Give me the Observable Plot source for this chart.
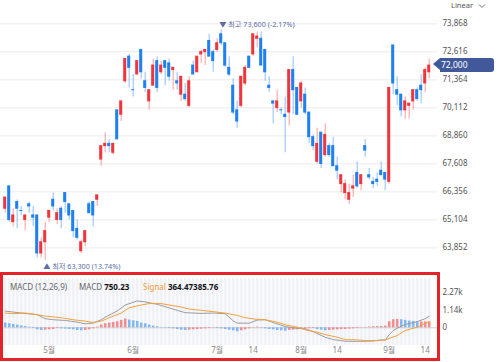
<!DOCTYPE html>
<html><head><meta charset="utf-8">
<script src="https://cdn.jsdelivr.net/npm/d3@7"></script>
<script src="https://cdn.jsdelivr.net/npm/@observablehq/plot@0.6"></script>
<style>
body{margin:0;background:#fff;font-family:"Noto Sans","Noto Sans CJK KR",sans-serif;}
#wrap{position:relative;width:500px;height:362px;overflow:hidden;background:#fff;}
#main{position:absolute;left:0;top:0;}
#macd{position:absolute;left:0;top:271px;}
#box{position:absolute;left:0;top:272px;width:440px;height:88.5px;border:3px solid #e5232b;box-sizing:border-box;}
.lg{position:absolute;top:281px;font-size:8px;line-height:12px;white-space:nowrap;color:#666;}
.lg b{color:#111;}
#scale{position:absolute;left:451px;top:0px;font-size:7.5px;line-height:10px;color:#555;}
#tag{position:absolute;left:433px;width:61px;height:13.4px;}
#tag .arrow{position:absolute;left:0;top:0;width:0;height:0;border-top:6.7px solid transparent;border-bottom:6.7px solid transparent;border-right:7px solid #41599b;}
#tag .body{position:absolute;left:7px;top:0;width:54px;height:13.4px;background:#41599b;border-radius:0 3px 3px 0;color:#fff;font-size:8.5px;line-height:13.4px;padding-left:1px;box-sizing:border-box;}
</style></head>
<body><div id="wrap">
<div id="main"></div>
<div id="macd"></div>
<div id="box"></div>
<div class="lg" style="left:10px">MACD (12,26,9)</div>
<div class="lg" style="left:79px">MACD <b id="mv"></b></div>
<div class="lg" style="left:143px"><span style="color:#f39a2e">Signal</span> <b id="sv"></b></div>
<div id="scale">Linear <svg width="8" height="6" style="margin-left:3px;vertical-align:middle"><path d="M1 1.5 L4 4.5 L7 1.5" fill="none" stroke="#666" stroke-width="0.9"/></svg></div>
<div id="tag"><div class="arrow"></div><div class="body" id="tagtext"></div></div>
</div>
<script>
// Daily OHLC (KRW)
const open  = [65600,66600,65000,65900,65500,65100,65800,65300,65300,63600,64100,65200,66000,65100,65600,66300,65800,65500,64700,63700,64100,65800,65900,66000,67800,68400,68500,68100,70000,69800,71300,72400,70900,71600,72700,71300,70400,71100,72200,71700,72200,72100,71800,71300,70700,70700,70200,72000,71700,72500,72600,73100,72600,72700,73400,73000,71900,71100,70000,70200,71200,72400,72500,73200,73200,72700,71100,70400,70100,70000,69800,69900,71800,71000,70400,70700,69900,68800,67700,69000,68000,68400,68400,67500,66700,66300,66000,66500,67200,66700,68400,67100,66800,66900,67300,67200,66800,72900,70900,70700,70000,70200,70400,70900,71100,71200,71700];
const high  = [66100,66600,65600,66000,65700,65300,65900,65700,65300,64300,65000,65500,66300,65600,65700,66300,65800,65500,65100,64200,64600,65900,65900,66200,68400,69000,68700,68500,70000,70400,72300,72500,71600,72200,72700,71700,70900,72300,72400,72200,72200,72300,71900,71700,71500,71200,71500,72200,72400,72700,72700,73400,72700,73200,73600,73000,72400,71400,70400,71500,72000,72400,73400,73500,73500,72700,71500,70400,70900,70100,70600,71800,72400,71000,71300,71000,69900,68900,69200,69000,69400,68500,68800,67900,67100,66900,66700,67100,67700,67100,68700,67400,67000,67200,67700,67200,71000,72900,71500,70700,70600,70300,70900,71000,71600,71900,72300];
const low   = [65400,65000,64800,64700,65300,64600,65400,64800,63400,63400,63300,65000,65500,64900,64700,65400,65100,64300,64200,63600,63900,65400,64800,65700,67500,68100,68100,68000,68700,69500,71200,71000,70600,71600,71400,70800,70000,71100,70800,71600,71100,71300,70900,70900,70400,70400,70100,71600,71700,72100,72000,72400,71700,72600,72900,71900,71500,69800,69200,70100,71100,71900,72400,72800,72000,71300,70800,69400,69900,69800,68100,69300,69800,69800,70100,69800,68500,68200,67600,67400,67900,67900,67500,66900,66300,66000,65800,66100,66500,66400,67900,66900,66500,66600,67100,66400,66700,70700,70200,69700,69600,69600,70000,70400,70300,70800,71400];
const close = [66100,65100,65300,65600,65500,65300,65700,65200,63600,64100,64600,65500,65700,65400,65100,65900,65300,64600,64300,64100,64600,65400,65300,66200,68400,68500,68400,68500,68700,70400,72300,71900,70900,72200,71700,71000,70900,72000,71000,72000,71900,71500,71900,71200,71500,70500,71300,71600,72400,72600,72700,72400,72200,73000,73000,72000,71600,69900,69500,71500,71900,71900,73400,73300,72000,71700,71000,70300,70400,70000,69700,71800,70900,69800,71200,69900,68800,68400,68500,67600,68900,68000,67500,67300,67100,66700,66300,66600,66600,67100,68200,67000,66700,66800,67100,66900,71000,71200,70700,70000,70400,70300,70900,70500,70900,71800,72000];

// MACD oscillator (per day) and sampled MACD / Signal lines
const histogram = [305,262,218,174,131,87,44,-44,-131,-174,-153,-131,-109,-44,-65,-87,-109,-131,-174,-196,-174,-131,-65,44,174,262,305,349,392,480,567,501,458,414,305,262,174,109,65,22,-22,-44,-65,-109,-153,-174,-153,-131,-109,-87,-65,-44,-22,-44,-65,-109,-153,-196,-262,-196,-131,-65,22,44,-22,-65,-109,-131,-174,-196,-218,-174,-153,-131,-109,-87,-65,-44,-109,-153,-196,-174,-153,-131,-120,-109,-87,-65,-44,-22,22,44,65,76,87,109,392,523,545,523,480,436,414,371,381,383,386];
const macdIdx = [0,2,5,8,10,12,15,18,20,22,24,25,28,30,33,35,38,40,43,45,49,52,55,57,58,61,63,65,67,70,72,75,77,80,82,85,88,92,94,95,96,97,98,100,103,105,106];
const macdVal = [1086,1020,930,850,589,523,477,366,262,301,523,690,1086,1480,1740,1680,1524,1370,1131,980,935,955,916,450,301,301,500,523,340,85,-10,-65,-250,-615,-760,-876,-876,-860,-785,-800,-450,-180,-30,216,400,589,750];
const signalIdx = [0,2,5,8,10,14,17,20,22,24,26,29,31,34,36,39,41,44,46,49,52,55,58,60,63,65,68,70,73,75,78,80,83,85,88,90,93,95,98,100,103,105,106];
const signalVal = [955,916,955,850,760,654,523,432,347,432,654,955,1300,1478,1570,1570,1478,1347,1216,1131,1046,955,804,654,543,523,366,196,39,-131,-288,-438,-615,-765,-785,-830,-830,-785,-504,-177,39,301,364];
const legendValues = ["750.23", "364.47", "385.76"];

// Axis ticks
const priceTicks = [63852,65104,66356,67608,68860,70112,71364,72616,73868];
const macdTicks = [0,1135,2270];
const macdTickLabels = ["0","1.14k","2.27k"];
const dateTickIdx = [11,32,53,62,74,83,96,105];
const dateTickLabels = ["5월","6월","7월","14","8월","14","9월","14"];
const extremeLabels = ["▼ 최고 73,600 (-2.17%)", "▲ 최저 63,300 (13.74%)"];

const RED = "#f0363c", BLUE = "#1f80ef";
const n = close.length;
const candles = d3.range(n).map(i => ({i, o: open[i], h: high[i], l: low[i], c: close[i]}));
const col = d => d.c > d.o ? RED : BLUE;
const hiI = d3.maxIndex(high), loI = d3.minIndex(low);
const xDomain = [-1.175, 108.075];
const font = "'Noto Sans','Noto Sans CJK KR',sans-serif";

const main = Plot.plot({
  width: 500, height: 272,
  marginTop: 0, marginBottom: 0, marginLeft: 0, marginRight: 63,
  style: {fontSize: "8px", color: "#555", fontFamily: font, background: "transparent"},
  x: {domain: xDomain, axis: null},
  y: {domain: [62749, 74910], axis: null},
  marks: [
    Plot.gridY(priceTicks, {stroke: "#ececec", strokeOpacity: 1}),
    Plot.axisY({anchor: "right", ticks: priceTicks, tickSize: 0, tickPadding: 5, tickFormat: d3.format(","), fill: "#555", label: null}),
    Plot.ruleX(candles, {x: "i", y1: "l", y2: "h", stroke: col, strokeOpacity: 0.42, strokeWidth: 1.2}),
    Plot.rect(candles, {x1: d => d.i - 0.38, x2: d => d.i + 0.38, y1: "o", y2: "c", fill: col, insetTop: -0.5, insetBottom: -0.5}),
    Plot.text([hiI], {x: d => d, y: d => high[d], text: () => extremeLabels[0], textAnchor: "start", dx: -2, dy: -5, fill: "#5a6da8", fontSize: 7.2}),
    Plot.text([loI], {x: d => d, y: d => low[d], text: () => extremeLabels[1], textAnchor: "start", dx: -2, dy: 7, fill: "#5a6da8", fontSize: 7.2})
  ]
});
document.getElementById("main").append(main);

// price tag for last close, positioned by the y scale
const yLast = main.scale("y").apply(close[n - 1]);
const tag = document.getElementById("tag");
tag.style.top = (yLast - 6.7) + "px";
document.getElementById("tagtext").textContent = d3.format(",")(close[n - 1]);

const hist = histogram.map((v, i) => ({i, v, up: i > 0 && v > histogram[i - 1]}));
const macdPts = macdIdx.map((i, k) => ({i, v: macdVal[k]}));
const sigPts = signalIdx.map((i, k) => ({i, v: signalVal[k]}));

const macd = Plot.plot({
  width: 500, height: 89,
  marginTop: 7, marginBottom: 15, marginLeft: 0, marginRight: 63,
  style: {fontSize: "8px", color: "#555", fontFamily: font, background: "transparent"},
  x: {domain: xDomain, axis: null},
  y: {domain: [-1148, 3197], axis: null},
  marks: [
    Plot.ruleX(d3.range(n), {stroke: "#f0f2f8", strokeWidth: 3}),
    Plot.ruleY([0], {stroke: "#cfcfcf"}),
    Plot.ruleX(hist, {x: "i", y1: 0, y2: "v", stroke: d => d.up ? "#f28d92" : "#80b8f4", strokeWidth: 2.6}),
    Plot.line(macdPts, {x: "i", y: "v", stroke: "#9c9c9c", strokeWidth: 1}),
    Plot.line(sigPts, {x: "i", y: "v", stroke: "#f5a03a", strokeWidth: 1}),
    Plot.axisY({anchor: "right", ticks: macdTicks, tickSize: 0, tickPadding: 5, tickFormat: (d, k) => macdTickLabels[k], fill: "#555", label: null}),
    Plot.axisX({anchor: "bottom", ticks: dateTickIdx, tickSize: 0, tickPadding: 2, tickFormat: (d, k) => dateTickLabels[k], fill: "#888", label: null})
  ]
});
document.getElementById("macd").append(macd);
document.getElementById("mv").textContent = legendValues[0];
document.getElementById("sv").textContent = legendValues[1] + legendValues[2];
</script>
</body></html>
